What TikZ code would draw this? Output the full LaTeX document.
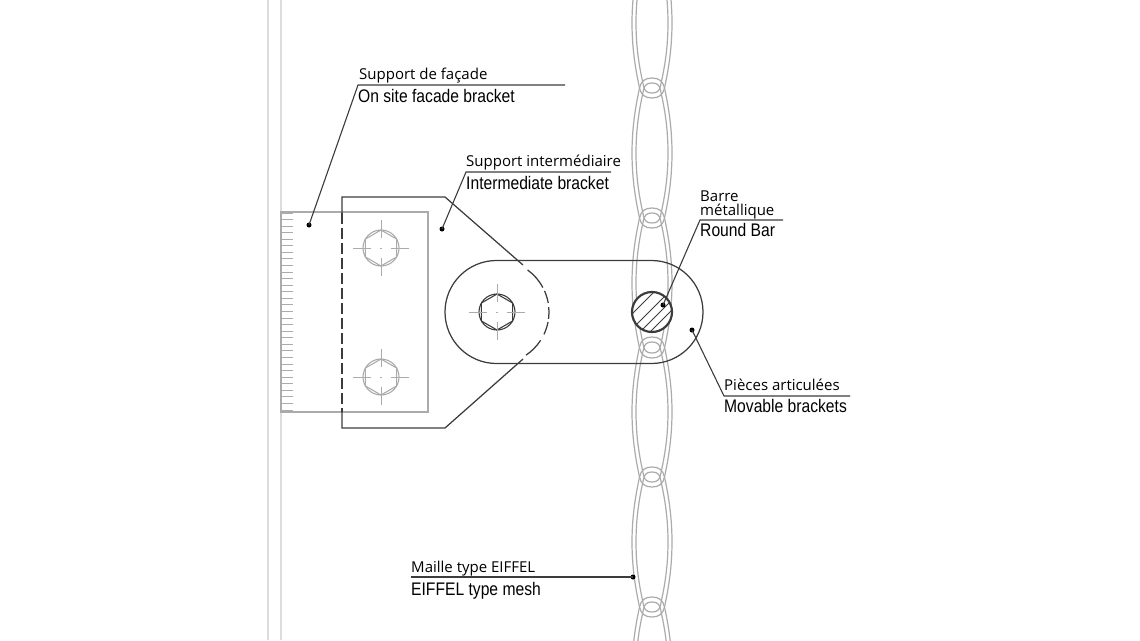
\documentclass[tikz,border=0pt]{standalone}
\usepackage{fontspec}
\setmainfont{Open Sans}
\newfontfamily\narrowfont[FakeStretch=0.86]{Liberation Sans}
\definecolor{inkline}{HTML}{3C3C3C}
\definecolor{paleline}{HTML}{ABABAB}
\definecolor{wallline}{HTML}{DCDCDC}
\tikzset{
  frlabel/.style={anchor=base west,inner sep=0pt,text=black,font=\fontsize{15}{15}\selectfont},
  enlabel/.style={anchor=base west,inner sep=0pt,text=black,font=\narrowfont\fontsize{18.2}{18.2}\selectfont},
  leader/.style={draw=inkline,line width=1.1pt},
  leaddot/.style={circle,fill=black,inner sep=0pt,minimum size=5pt},
  outline/.style={draw=inkline,line width=1.25pt},
  pale/.style={draw=paleline,line width=1.25pt},
  axisline/.style={draw=paleline,line width=0.9pt}
}
% one link of the mesh, around its centre
\newcommand{\meshlink}[1]{
  \begin{scope}[shift={(652,#1)},draw=paleline,line width=1.2pt]
    \draw (0,-75) .. controls (-7,-75) and (-11,-72) .. (-12.5,-65)
      .. controls (-15,-53) and (-20,-30) .. (-20,0)
      .. controls (-20,30) and (-15,53) .. (-12.5,65)
      .. controls (-11,72) and (-7,75) .. (0,75)
      .. controls (7,75) and (11,72) .. (12.5,65)
      .. controls (15,53) and (20,30) .. (20,0)
      .. controls (20,-30) and (15,-53) .. (12.5,-65)
      .. controls (11,-72) and (7,-75) .. (0,-75) -- cycle;
    \draw (0,-70) .. controls (-5,-70) and (-7.5,-68) .. (-8.5,-63)
      .. controls (-11,-51) and (-16,-30) .. (-16,0)
      .. controls (-16,30) and (-11,51) .. (-8.5,63)
      .. controls (-7.5,68) and (-5,70) .. (0,70)
      .. controls (5,70) and (7.5,68) .. (8.5,63)
      .. controls (11,51) and (16,30) .. (16,0)
      .. controls (16,-30) and (11,-51) .. (8.5,-63)
      .. controls (7.5,-68) and (5,-70) .. (0,-70) -- cycle;
  \end{scope}
}
% one bolt with its axes
\newcommand{\boltmark}[3]{
  \begin{scope}[shift={(#1,#2)},draw=#3]
    \draw[line width=1.1pt] (0,0) circle (18);
    \draw[line width=1.1pt] (90:18) -- (150:18) -- (210:18) -- (270:18) -- (330:18) -- (30:18) -- cycle;
    \draw[axisline] (-28,0) -- (-10,0) (10,0) -- (28,0) (0,-28) -- (0,-10) (0,10) -- (0,28);
    \draw[axisline] (-1,0) -- (1,0);
  \end{scope}
}
\begin{document}
\begin{tikzpicture}[x=1pt,y=-1pt]
  \useasboundingbox (0,0) rectangle (1140,640);

  % wall
  \draw[wallline,line width=1.2pt] (268,0) -- (268,640);
  \draw[wallline,line width=1.2pt] (281,0) -- (281,640);

  % mesh
  \begin{scope}
    \clip (600,0) rectangle (720,640);
    \foreach \yc in {23,153,283,412,542,672} {\meshlink{\yc}}
  \end{scope}

  % facade bracket
  \draw[pale] (281,212) rectangle (428,412);
  \foreach \i in {0,...,30} {\draw[pale,line width=1pt] (281,213+6.57*\i) -- (293,213+6.57*\i);}
  \boltmark{381}{248}{paleline}
  \boltmark{381}{377}{paleline}

  % intermediate bracket
  \draw[outline] (342,213) -- (342,197) -- (445,197) -- (523,265);
  \draw[outline] (342,412) -- (342,428) -- (445,428) -- (523,359);
  \draw[outline,dash pattern=on 11pt off 4pt] (342,213) -- (342,412);
  \foreach \a/\b in {-54/-28,-24/-10,-5.5/7.5,11/25.5,33/56} {
    \draw[outline] ([shift={(\a:52)}]497,312) arc[start angle=\a,end angle=\b,radius=52];
  }

  % movable brackets
  \draw[outline] (496.5,260.5) -- (651.5,260.5) arc[start angle=-90,end angle=90,radius=51.5]
    -- (496.5,363.5) arc[start angle=90,end angle=270,radius=51.5] -- cycle;
  \boltmark{497}{312}{inkline}

  % round bar
  \draw[draw=inkline,fill=white,line width=2.2pt] (652,312) circle (20);
  \begin{scope}
    \clip (652,312) circle (20);
    \foreach \d in {-18,-3,8,18} {\draw[inkline,line width=1pt] (652+\d-25,312+25) -- (652+\d+25,312-25);}
  \end{scope}

  % labels
  \node[frlabel] (facadeFr) at (359,79) {Support de façade};
  \node[enlabel] (facadeEn) at (358,102) {On site facade bracket};
  \node[frlabel] (interFr) at (466,166) {Support intermédiaire};
  \node[enlabel] (interEn) at (466,189) {Intermediate bracket};
  \node[frlabel] (barFrA) at (700,201) {Barre};
  \node[frlabel] (barFrB) at (700,215) {métallique};
  \node[enlabel] (barEn) at (700,236) {Round Bar};
  \node[frlabel] (movableFr) at (724,390) {Pièces articulées};
  \node[enlabel] (movableEn) at (724,412) {Movable brackets};
  \node[frlabel] (meshFr) at (411,572) {Maille type EIFFEL};
  \node[enlabel] (meshEn) at (411,595) {EIFFEL type mesh};

  % leaders
  \node[leaddot] (facadeDot) at (309,225) {};
  \node[leaddot] (interDot) at (442,229) {};
  \node[leaddot] (barDot) at (663,305) {};
  \node[leaddot] (movableDot) at (692,330) {};
  \node[leaddot] (meshDot) at (633,577) {};
  \coordinate (facadeEnd) at (565,85);
  \coordinate (facadeKnee) at (358,85);
  \coordinate (interEnd) at (611,172);
  \coordinate (interKnee) at (466,172);
  \coordinate (barEnd) at (783,220);
  \coordinate (barKnee) at (700,220);
  \coordinate (movableEnd) at (850,396);
  \coordinate (movableKnee) at (724,396);
  \coordinate (meshKnee) at (411,577);
  \draw[leader] (facadeEnd) -- (facadeKnee) -- (facadeDot.center);
  \draw[leader] (interEnd) -- (interKnee) -- (interDot.center);
  \draw[leader] (barEnd) -- (barKnee) -- (barDot.center);
  \draw[leader] (movableEnd) -- (movableKnee) -- (movableDot.center);
  \draw[leader] (meshKnee) -- (meshDot.center);
\end{tikzpicture}
\end{document}
